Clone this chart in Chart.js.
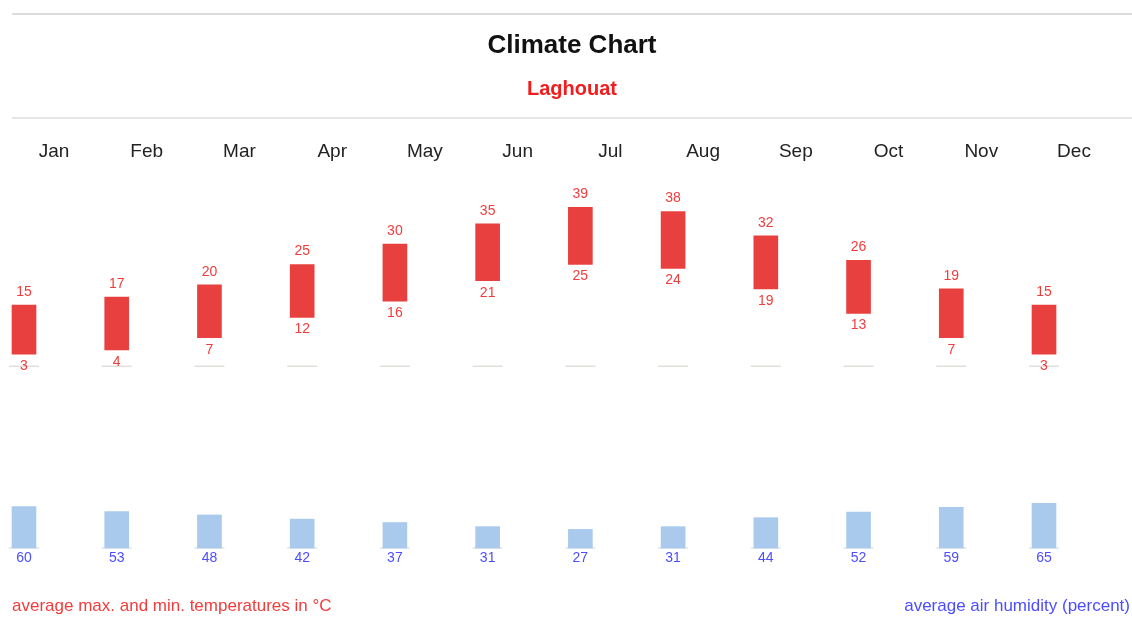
<!DOCTYPE html>
<html><head><meta charset="utf-8">
<script src="https://cdn.jsdelivr.net/npm/chart.js@4.4.1/dist/chart.umd.min.js"></script>
<style>html,body{margin:0;padding:0;background:#fff;}#wrap{width:1132px;height:617px;position:relative;}</style>
</head><body><div id="wrap"><canvas id="c"></canvas></div>
<script>
const months = ['Jan','Feb','Mar','Apr','May','Jun','Jul','Aug','Sep','Oct','Nov','Dec'];
const tempMax = [15,17,20,25,30,35,39,38,32,26,19,15];
const tempMin = [3,4,7,12,16,21,25,24,19,13,7,3];
const humidity = [60,53,48,42,37,31,27,31,44,52,59,65];
const titleText = 'Climate Chart';
const placeText = 'Laghouat';
const footLeft = 'average max. and min. temperatures in °C';
const footRight = 'average air humidity (percent)';

const FONT = 'Arial, "Liberation Sans", sans-serif';
const RED_TXT = '#f23c3c';
const BLUE_TXT = '#4d4dff';

const decorPlugin = {
  id: 'decor',
  beforeDatasetsDraw(chart) {
    const ctx = chart.ctx, x = chart.scales.x, yT = chart.scales.yT, yH = chart.scales.yH;
    ctx.save();
    ctx.lineWidth = 1.5;
    months.forEach((m, i) => {
      const cx = x.getPixelForValue(i);
      ctx.strokeStyle = '#e2deda';
      ctx.beginPath(); ctx.moveTo(cx - 15, yT.getPixelForValue(0)); ctx.lineTo(cx + 15, yT.getPixelForValue(0)); ctx.stroke();
      ctx.strokeStyle = '#dfe3ea';
      ctx.beginPath(); ctx.moveTo(cx - 15, yH.getPixelForValue(0)); ctx.lineTo(cx + 15, yH.getPixelForValue(0)); ctx.stroke();
    });
    ctx.restore();
  },
  afterDatasetsDraw(chart) {
    const ctx = chart.ctx, x = chart.scales.x, yT = chart.scales.yT, yH = chart.scales.yH;
    ctx.save();
    ctx.textAlign = 'center';
    ctx.textBaseline = 'middle';
    ctx.font = '14px ' + FONT;
    months.forEach((m, i) => {
      const cx = x.getPixelForValue(i);
      ctx.fillStyle = RED_TXT;
      ctx.fillText(String(tempMax[i]), cx, yT.getPixelForValue(tempMax[i]) - 13);
      ctx.fillText(String(tempMin[i]), cx, yT.getPixelForValue(tempMin[i]) + 12);
      ctx.fillStyle = BLUE_TXT;
      ctx.fillText(String(humidity[i]), cx, yH.getPixelForValue(0) + 10);
    });
    ctx.restore();
  },
  afterDraw(chart) {
    const ctx = chart.ctx;
    ctx.save();
    ctx.strokeStyle = '#dcdcdc';
    ctx.lineWidth = 2;
    ctx.beginPath(); ctx.moveTo(12, 14); ctx.lineTo(1132, 14); ctx.stroke();
    ctx.lineWidth = 1.5;
    ctx.beginPath(); ctx.moveTo(12, 118); ctx.lineTo(1132, 118); ctx.stroke();
    ctx.font = '17px ' + FONT;
    ctx.textBaseline = 'middle';
    ctx.textAlign = 'left';
    ctx.fillStyle = RED_TXT;
    ctx.fillText(footLeft, 12, 606);
    ctx.textAlign = 'right';
    ctx.fillStyle = BLUE_TXT;
    ctx.fillText(footRight, 1130, 606);
    ctx.restore();
  }
};

new Chart(document.getElementById('c'), {
  type: 'bar',
  data: {
    labels: months,
    datasets: [
      {
        label: 'temperature',
        data: months.map((m, i) => [tempMin[i], tempMax[i]]),
        yAxisID: 'yT',
        backgroundColor: '#e8403f',
        barThickness: 24,
        grouped: false,
        clip: false
      },
      {
        label: 'humidity',
        data: humidity,
        yAxisID: 'yH',
        backgroundColor: '#a9caed',
        barThickness: 24,
        grouped: false,
        clip: false
      }
    ]
  },
  options: {
    responsive: true,
    maintainAspectRatio: false,
    animation: false,
    layout: { padding: { left: 12, right: 0, top: 0, bottom: 57 } },
    plugins: {
      legend: { display: false },
      tooltip: { enabled: false },
      title: {
        display: true, text: titleText, color: '#111',
        font: { size: 26, weight: 'bold', family: FONT },
        padding: { top: 30, bottom: 9 }
      },
      subtitle: {
        display: true, text: placeText, color: '#f21c1c',
        font: { size: 20, weight: 'bold', family: FONT },
        padding: { top: 7, bottom: 32.6 }
      }
    },
    scales: {
      x: {
        type: 'category', position: 'top', offset: false,
        grid: { display: false, drawTicks: false },
        border: { display: false },
        ticks: { labelOffset: 30, padding: 7, color: '#222', maxRotation: 0, autoSkip: false,
                 font: { size: 19, family: FONT } }
      },
      yT: {
        position: 'left', min: -47.55, max: 48.04,
        grid: { display: false, drawTicks: false }, border: { display: false },
        ticks: { display: false },
        afterFit(scale) { scale.width = 12; }
      },
      yH: {
        position: 'right', min: -17.4, max: 547.8,
        grid: { display: false, drawTicks: false }, border: { display: false },
        ticks: { display: false },
        afterFit(scale) { scale.width = 88; }
      }
    }
  },
  plugins: [decorPlugin]
});
</script>
</body></html>
